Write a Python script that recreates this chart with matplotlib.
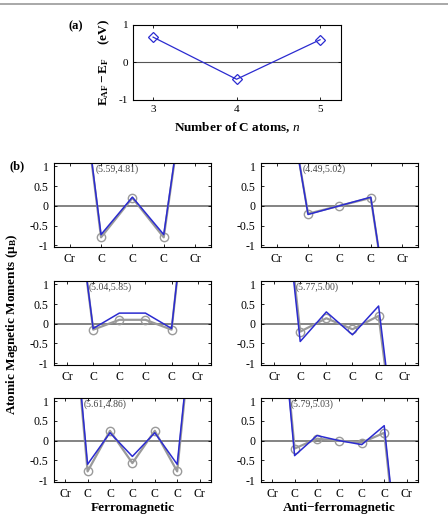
import numpy as np
import matplotlib
matplotlib.use('Agg')
import matplotlib.pyplot as plt
import matplotlib.transforms as mtransforms

plt.rcParams['font.family'] = 'Liberation Serif'
plt.rcParams['mathtext.fontset'] = 'custom'
plt.rcParams['mathtext.rm'] = 'Liberation Serif'
plt.rcParams['mathtext.it'] = 'Liberation Serif:italic'
plt.rcParams['mathtext.bf'] = 'Liberation Serif:bold'
plt.rcParams['xtick.direction'] = 'in'
plt.rcParams['ytick.direction'] = 'in'
plt.rcParams['axes.unicode_minus'] = False

# panel (a): energy difference vs number of C atoms
n_atoms = [3, 4, 5]
e_diff = [0.67, -0.45, 0.60]

# panel (b): moments along Cr-Cn-Cr chain (blue = one calc, gray = other)
fm3_blue = [5.59, -0.73, 0.22, -0.73, 4.81]
fm3_gray = [5.59, -0.80, 0.20, -0.80, 4.81]
afm3_blue = [4.49, -0.22, 0.00, 0.22, -5.02]
afm3_gray = [4.49, -0.20, 0.00, 0.20, -5.02]
fm4_blue = [5.04, -0.12, 0.27, 0.27, -0.12, 5.85]
fm4_gray = [5.04, -0.15, 0.10, 0.10, -0.15, 5.85]
afm4_blue = [5.77, -0.45, 0.30, -0.28, 0.45, -5.00]
afm4_gray = [5.77, -0.20, 0.14, -0.14, 0.20, -5.00]
fm5_blue = [5.61, -0.60, 0.20, -0.40, 0.20, -0.60, 4.86]
fm5_gray = [5.61, -0.78, 0.25, -0.57, 0.25, -0.78, 4.86]
afm5_blue = [5.79, -0.38, 0.13, 0.00, -0.10, 0.38, -5.03]
afm5_gray = [5.79, -0.20, 0.05, 0.00, -0.05, 0.20, -5.03]
notes = ['(5.59,4.81)', '(4.49,5.02)', '(5.04,5.85)',
         '(5.77,5.00)', '(5.61,4.86)', '(5.79,5.03)']
col_titles = ['Ferromagnetic', 'Anti\u2212ferromagnetic']

blue = '#2b2bd0'
gray = '#9a9a9a'

fig = plt.figure(figsize=(4.48, 5.15), dpi=100)

# gray rule across the top of the page
fig.add_artist(plt.Line2D([0, 1], [0.992, 0.992], color='#999999', lw=1.2))

# ---- panel (a)
ax = fig.add_axes([0.297, 0.806, 0.464, 0.146])
ax.plot(n_atoms, e_diff, color=blue, lw=0.9, marker='D', mfc='none',
        mec=blue, ms=5, mew=0.9)
ax.axhline(0, color='#555555', lw=0.8, zorder=0)
ax.set_xlim(2.76, 5.25)
ax.set_ylim(-1, 1)
ax.set_xticks([3, 4, 5])
ax.set_yticks([-1, 0, 1])
ax.tick_params(labelsize=8, length=2, top=True, right=True, width=0.6)
ax.set_xlabel(r'Number of C atoms, $\mathbf{\mathit{n}}$', fontsize=9.5,
              fontweight='bold', labelpad=5)
ax.set_ylabel(r'$\mathbf{E_{AF}-E_F}$    $\mathbf{(eV)}$', fontsize=9.5,
              labelpad=5)
for s in ax.spines.values():
    s.set_linewidth(0.8)
fig.text(0.168, 0.948, '(a)', fontsize=9, fontweight='bold',
         ha='center', va='center')

# ---- panel (b)
panels = [
    (fm3_blue, fm3_gray), (afm3_blue, afm3_gray),
    (fm4_blue, fm4_gray), (afm4_blue, afm4_gray),
    (fm5_blue, fm5_gray), (afm5_blue, afm5_gray),
]
lefts = [0.1205, 0.5826]
bottoms = [0.520, 0.291, 0.064]
width, height = 0.350, 0.163

for i, (yb, yg) in enumerate(panels):
    row, col = divmod(i, 2)
    ax = fig.add_axes([lefts[col], bottoms[row], width, height])
    x = np.arange(1, len(yb) + 1)
    ax.axhline(0, color='#6e6e6e', lw=1.2, zorder=0)
    ax.plot(x, yg, color=gray, lw=1.6, zorder=1)
    ax.plot(x[1:-1], yg[1:-1], ls='none', marker='o', mfc='none',
            mec=gray, ms=6, mew=1.0, zorder=1)
    ax.plot(x, yb, color=blue, lw=1.1, zorder=2)
    ax.set_xlim(0.5, len(yb) + 0.5)
    ax.set_ylim(-1.05, 1.08)
    ax.set_xticks(x)
    ax.set_xticklabels(['Cr'] + ['C'] * (len(yb) - 2) + ['Cr'])
    ax.set_yticks([-1, -0.5, 0, 0.5, 1])
    ax.set_yticklabels(['-1', '-0.5', '0', '0.5', '1'])
    ax.tick_params(labelsize=8.5, length=2, top=True, right=True, width=0.6,
                   pad=4)
    for s in ax.spines.values():
        s.set_linewidth(0.8)
    trans = mtransforms.blended_transform_factory(ax.transData, ax.transAxes)
    ax.text(1.82, 0.93, notes[i], transform=trans, fontsize=7,
            color='#444444', ha='left', va='center')
    if row == 2:
        fig.text(lefts[col] + width / 2, 0.0145, col_titles[col],
                 fontsize=9.5, fontweight='bold', ha='center', va='center')

fig.text(0.038, 0.677, '(b)', fontsize=9, fontweight='bold',
         ha='center', va='center')
fig.text(0.027, 0.370, r'Atomic Magnetic Moments ($\mathbf{\mu_B}$)',
         fontsize=9.5, fontweight='bold', rotation=90, ha='center', va='center')

fig.savefig('out.png', dpi=100)
